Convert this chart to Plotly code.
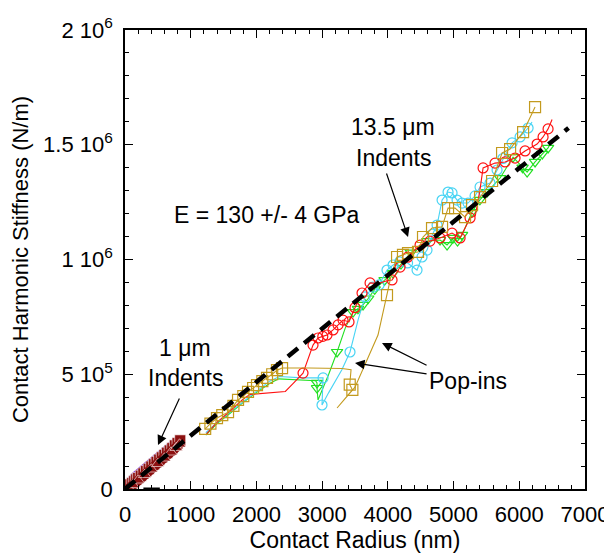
import plotly.graph_objects as go

# ---------------- data ----------------
# 13.5 um indents: red circles
red_x = [1240, 1400, 1600, 1800, 1900, 2200, 2440, 2560, 2709, 2861, 2937, 3010, 3074, 3166, 3242, 3318, 3409,
         3500, 3607, 3729, 3850, 3960, 4064, 4186, 4300, 4490, 4640, 4794, 4977, 5099, 5251, 5330, 5400, 5449,
         5631, 5784, 5936, 6088, 6271, 6362, 6438, 6499]
red_y = [240e3, 290e3, 340e3, 392e3, 412e3, 418e3, 425e3, 460e3, 505e3, 627e3, 658e3, 665e3, 671e3, 693e3, 715e3,
         736e3, 728e3, 790e3, 854e3, 898e3, 895e3, 905e3, 911e3, 967e3, 1010e3, 1063e3, 1080e3, 1094e3, 1115e3,
         1094e3, 1181e3, 1190e3, 1300e3, 1399e3, 1420e3, 1425e3, 1442e3, 1473e3, 1503e3, 1534e3, 1569e3, 1610e3]
red_mx = [2709, 2861, 2937, 3010, 3074, 3166, 3242, 3318, 3409, 3500, 3607, 3729, 4064, 4186, 4300, 4490, 4640,
          4794, 4977, 5099, 5251, 5449, 5631, 5784, 5936, 6088, 6271, 6362, 6438]
red_my = [505e3, 627e3, 658e3, 665e3, 671e3, 693e3, 715e3, 736e3, 728e3, 790e3, 854e3, 898e3, 911e3, 967e3,
          1010e3, 1063e3, 1080e3, 1094e3, 1115e3, 1094e3, 1181e3, 1399e3, 1420e3, 1425e3, 1442e3, 1473e3,
          1503e3, 1534e3, 1569e3]

# 13.5 um indents: cyan circles
cyan_x = [1230, 1400, 1600, 1800, 2000, 2200, 2350, 2700, 3014, 2998, 3100, 3300, 3424, 3550, 3653, 3775, 3866,
          3987, 4079, 4180, 4300, 4444, 4520, 4596, 4680, 4749, 4825, 4916, 4977, 5053, 5129, 5220, 5327, 5403,
          5555, 5662, 5750, 5890, 6012, 6134, 6194]
cyan_y = [245e3, 290e3, 335e3, 380e3, 425e3, 470e3, 490e3, 484e3, 484e3, 366e3, 420e3, 520e3, 597e3, 740e3,
          837e3, 880e3, 889e3, 954e3, 976e3, 990e3, 985e3, 954e3, 1011e3, 1041e3, 1110e3, 1150e3, 1259e3, 1294e3,
          1290e3, 1259e3, 1246e3, 1246e3, 1277e3, 1316e3, 1333e3, 1390e3, 1440e3, 1508e3, 1534e3, 1573e3, 1599e3]
cyan_mx = [3014, 2998, 3424, 3653, 3775, 3866, 3987, 4079, 4180, 4300, 4444, 4520, 4596, 4680, 4749, 4825, 4916,
           4977, 5053, 5129, 5220, 5327, 5403, 5555, 5662, 5750, 5890, 6012, 6134]
cyan_my = [484e3, 366e3, 597e3, 837e3, 880e3, 889e3, 954e3, 976e3, 990e3, 985e3, 954e3, 1011e3, 1041e3, 1110e3,
           1150e3, 1259e3, 1294e3, 1290e3, 1259e3, 1246e3, 1246e3, 1277e3, 1316e3, 1333e3, 1390e3, 1440e3,
           1508e3, 1534e3, 1573e3]

# 13.5 um indents: green triangles
green_x = [1230, 1400, 1600, 1800, 2000, 2200, 2340, 2700, 2900, 2922, 2922, 2937, 3100, 3227, 3350, 3470, 3545,
           3622, 3700, 3800, 3950, 4079, 4200, 4350, 4600, 4794, 4901, 4992, 5060, 5129, 5281, 5400, 5510, 5708,
           5905, 6050, 6119, 6240, 6350, 6438, 6500]
green_y = [235e3, 285e3, 330e3, 378e3, 420e3, 460e3, 480e3, 475e3, 472e3, 462e3, 440e3, 388e3, 500e3, 597e3,
           700e3, 771e3, 785e3, 802e3, 830e3, 870e3, 910e3, 941e3, 980e3, 1030e3, 1080e3, 1085e3, 1063e3, 1094e3,
           1080e3, 1107e3, 1207e3, 1260e3, 1294e3, 1355e3, 1446e3, 1400e3, 1381e3, 1425e3, 1460e3, 1486e3, 1520e3]
green_mx = [2922, 2922, 3227, 3470, 3545, 3622, 3700, 3800, 3950, 4079, 4200, 4350, 4600, 4794, 4901, 4992, 5060,
            5129, 5281, 5400, 5510, 5708, 5905, 6050, 6119, 6240, 6350, 6438]
green_my = [462e3, 440e3, 597e3, 771e3, 785e3, 802e3, 830e3, 870e3, 910e3, 941e3, 980e3, 1030e3, 1080e3, 1085e3,
            1063e3, 1094e3, 1080e3, 1107e3, 1207e3, 1260e3, 1294e3, 1355e3, 1446e3, 1400e3, 1381e3, 1425e3,
            1460e3, 1486e3]

# 13.5 um indents: gold squares
gold_x = [1220, 1300, 1400, 1480, 1568, 1650, 1720, 1800, 1872, 1950, 2009, 2090, 2161, 2240, 2313, 2390, 2800,
          3300, 3440, 3420, 3460, 3227, 3500, 3850, 3987, 4050, 4140, 4230, 4307, 4459, 4535, 4672, 4825, 4916,
          5023, 5175, 5281, 5403, 5586, 5738, 5860, 6058, 6240]
gold_y = [262e3, 285e3, 309e3, 322e3, 335e3, 362e3, 388e3, 405e3, 423e3, 440e3, 453e3, 470e3, 484e3, 500e3,
          518e3, 527e3, 527e3, 525e3, 520e3, 455e3, 432e3, 353e3, 444e3, 671e3, 845e3, 930e3, 1011e3, 1020e3,
          1028e3, 1033e3, 1098e3, 1137e3, 1142e3, 1224e3, 1224e3, 1185e3, 1237e3, 1272e3, 1342e3, 1464e3,
          1481e3, 1555e3, 1664e3]
gold_mx = [1220, 1300, 1400, 1480, 1568, 1650, 1720, 1800, 1872, 1950, 2009, 2090, 2161, 2240, 2313, 2390, 3420,
           3460, 3987, 4140, 4230, 4307, 4459, 4535, 4672, 4825, 4916, 5023, 5175, 5281, 5403, 5586, 5738, 5860,
           6058, 6240]
gold_my = [262e3, 285e3, 309e3, 322e3, 335e3, 362e3, 388e3, 405e3, 423e3, 440e3, 453e3, 470e3, 484e3, 500e3,
           518e3, 527e3, 455e3, 432e3, 845e3, 1011e3, 1020e3, 1028e3, 1033e3, 1098e3, 1137e3, 1142e3, 1224e3,
           1224e3, 1185e3, 1237e3, 1272e3, 1342e3, 1464e3, 1481e3, 1555e3, 1664e3]

# 1 um indents
small_a_x = [20, 50, 80, 110, 140, 170, 200, 240, 280, 320, 360, 400, 440, 480, 520, 560, 600, 640, 680, 720, 760, 800, 840]
small_a_y = [4e3, 12e3, 20e3, 26e3, 34e3, 42e3, 48e3, 58e3, 68e3, 78e3, 88e3, 98e3, 108e3, 118e3, 128e3, 138e3,
             148e3, 158e3, 168e3, 178e3, 190e3, 200e3, 212e3]
small_b_x = [60, 120, 200, 300, 400, 500, 600, 700, 780, 830]
small_b_y = [2e3, 18e3, 38e3, 62e3, 86e3, 110e3, 134e3, 160e3, 180e3, 195e3]
small_c_x = [0, 30, 80, 150, 250, 350, 450, 550, 650, 750, 800]
small_c_y = [0, 15e3, 32e3, 55e3, 80e3, 105e3, 128e3, 150e3, 172e3, 196e3, 210e3]
base_x = [280, 530]
base_y = [0, 0]

# fit line  E = 130 GPa
fit_x = [0, 6750]
fit_y = [0, 1573e3]

x_ticks = [0, 1000, 2000, 3000, 4000, 5000, 6000, 7000]
y_ticks = [0, 5e5, 1e6, 1.5e6, 2e6]
y_labels = ["0", "5 10<sup>5</sup>", "1 10<sup>6</sup>", "1.5 10<sup>6</sup>", "2 10<sup>6</sup>"]

# ---------------- figure ----------------
RED = "#FF1010"
CYAN = "#48D4F4"
GREEN = "#22E022"
GOLD = "#C39A1E"
MAROON = "#8C1010"
PURPLE = "#7A2FD0"

fig = go.Figure()

# 1 um cluster
fig.add_trace(go.Scatter(x=small_c_x, y=small_c_y, mode="lines", line=dict(color=PURPLE, width=9)))
fig.add_trace(go.Scatter(x=small_a_x, y=small_a_y, mode="lines+markers", line=dict(color=MAROON, width=10),
                         marker=dict(symbol="square", size=11, color=MAROON, line=dict(color="white", width=0.6))))
fig.add_trace(go.Scatter(x=small_b_x, y=small_b_y, mode="lines+markers", line=dict(color=MAROON, width=10),
                         marker=dict(symbol="triangle-up", size=11, color=MAROON, line=dict(color="white", width=0.6))))
fig.add_trace(go.Scatter(x=base_x, y=base_y, mode="lines", line=dict(color="black", width=3), cliponaxis=False))

series = [
    (green_x, green_y, green_mx, green_my, GREEN, "triangle-down-open", 10),
    (cyan_x, cyan_y, cyan_mx, cyan_my, CYAN, "circle-open", 10),
    (red_x, red_y, red_mx, red_my, RED, "circle-open", 10),
    (gold_x, gold_y, gold_mx, gold_my, GOLD, "square-open", 11),
]
for sx, sy, mx, my, col, sym, sz in series:
    fig.add_trace(go.Scatter(x=sx, y=sy, mode="lines", line=dict(color=col, width=1.1)))
    fig.add_trace(go.Scatter(x=mx, y=my, mode="markers",
                             marker=dict(symbol=sym, size=sz, color=col, line=dict(color=col, width=1.2))))

fig.add_trace(go.Scatter(x=fit_x, y=fit_y, mode="lines",
                         line=dict(color="black", width=4.5, dash="13px,8px")))

FONT = "Liberation Sans, Arial, sans-serif"
FS = 22
FA = 23
ann_font = dict(family=FONT, size=FA, color="black")

annotations = [
    dict(x=4079, y=1577e3, text="13.5 μm", showarrow=False, font=ann_font),
    dict(x=4079, y=1442e3, text="Indents", showarrow=False, font=ann_font),
    dict(x=2161, y=1194e3, text="E = 130 +/- 4 GPa", showarrow=False, font=ann_font),
    dict(x=913, y=615e3, text="1 μm", showarrow=False, font=ann_font),
    dict(x=913, y=485e3, text="Indents", showarrow=False, font=ann_font),
    dict(x=5220, y=471e3, text="Pop-ins", showarrow=False, font=ann_font),
]
arrows = [
    (4307, 1098e3, 3972, 1381e3),
    (502, 192e3, 838, 401e3),
    (3911, 636e3, 4612, 536e3),
    (3500, 549e3, 4612, 501e3),
]
for tx, ty, ax_, ay_ in arrows:
    annotations.append(dict(x=tx, y=ty, ax=ax_, ay=ay_, xref="x", yref="y", axref="x", ayref="y",
                            text="", showarrow=True, arrowhead=2, arrowsize=1.6, arrowwidth=1.2,
                            arrowcolor="black", standoff=0))

axis_common = dict(showgrid=False, zeroline=False, showline=True, linecolor="black", linewidth=1.5,
                   mirror="allticks", ticks="inside", ticklen=8, tickwidth=1.2, tickcolor="black",
                   automargin=False,
                   tickfont=dict(family=FONT, size=FS, color="black"))

fig.update_layout(
    width=612, height=554,
    margin=dict(l=117, r=35, t=22, b=73),
    paper_bgcolor="white", plot_bgcolor="white",
    showlegend=False,
    annotations=annotations,
    xaxis=dict(range=[0, 7000], tickvals=x_ticks, ticklabelstandoff=5,
               minor=dict(dtick=200, ticklen=4, ticks="inside", tickcolor="black", tickwidth=1),
               title=dict(text="Contact Radius (nm)", font=dict(family=FONT, size=FA, color="black"), standoff=6),
               **axis_common),
    yaxis=dict(range=[0, 2e6], tickvals=y_ticks, ticktext=y_labels, ticklabelstandoff=6,
               minor=dict(dtick=1e5, ticklen=4, ticks="inside", tickcolor="black", tickwidth=1),
               title=dict(text="Contact Harmonic Stiffness (N/m)", font=dict(family=FONT, size=FS, color="black"),
                          standoff=8),
               **axis_common),
)

fig.write_html("out.html")
